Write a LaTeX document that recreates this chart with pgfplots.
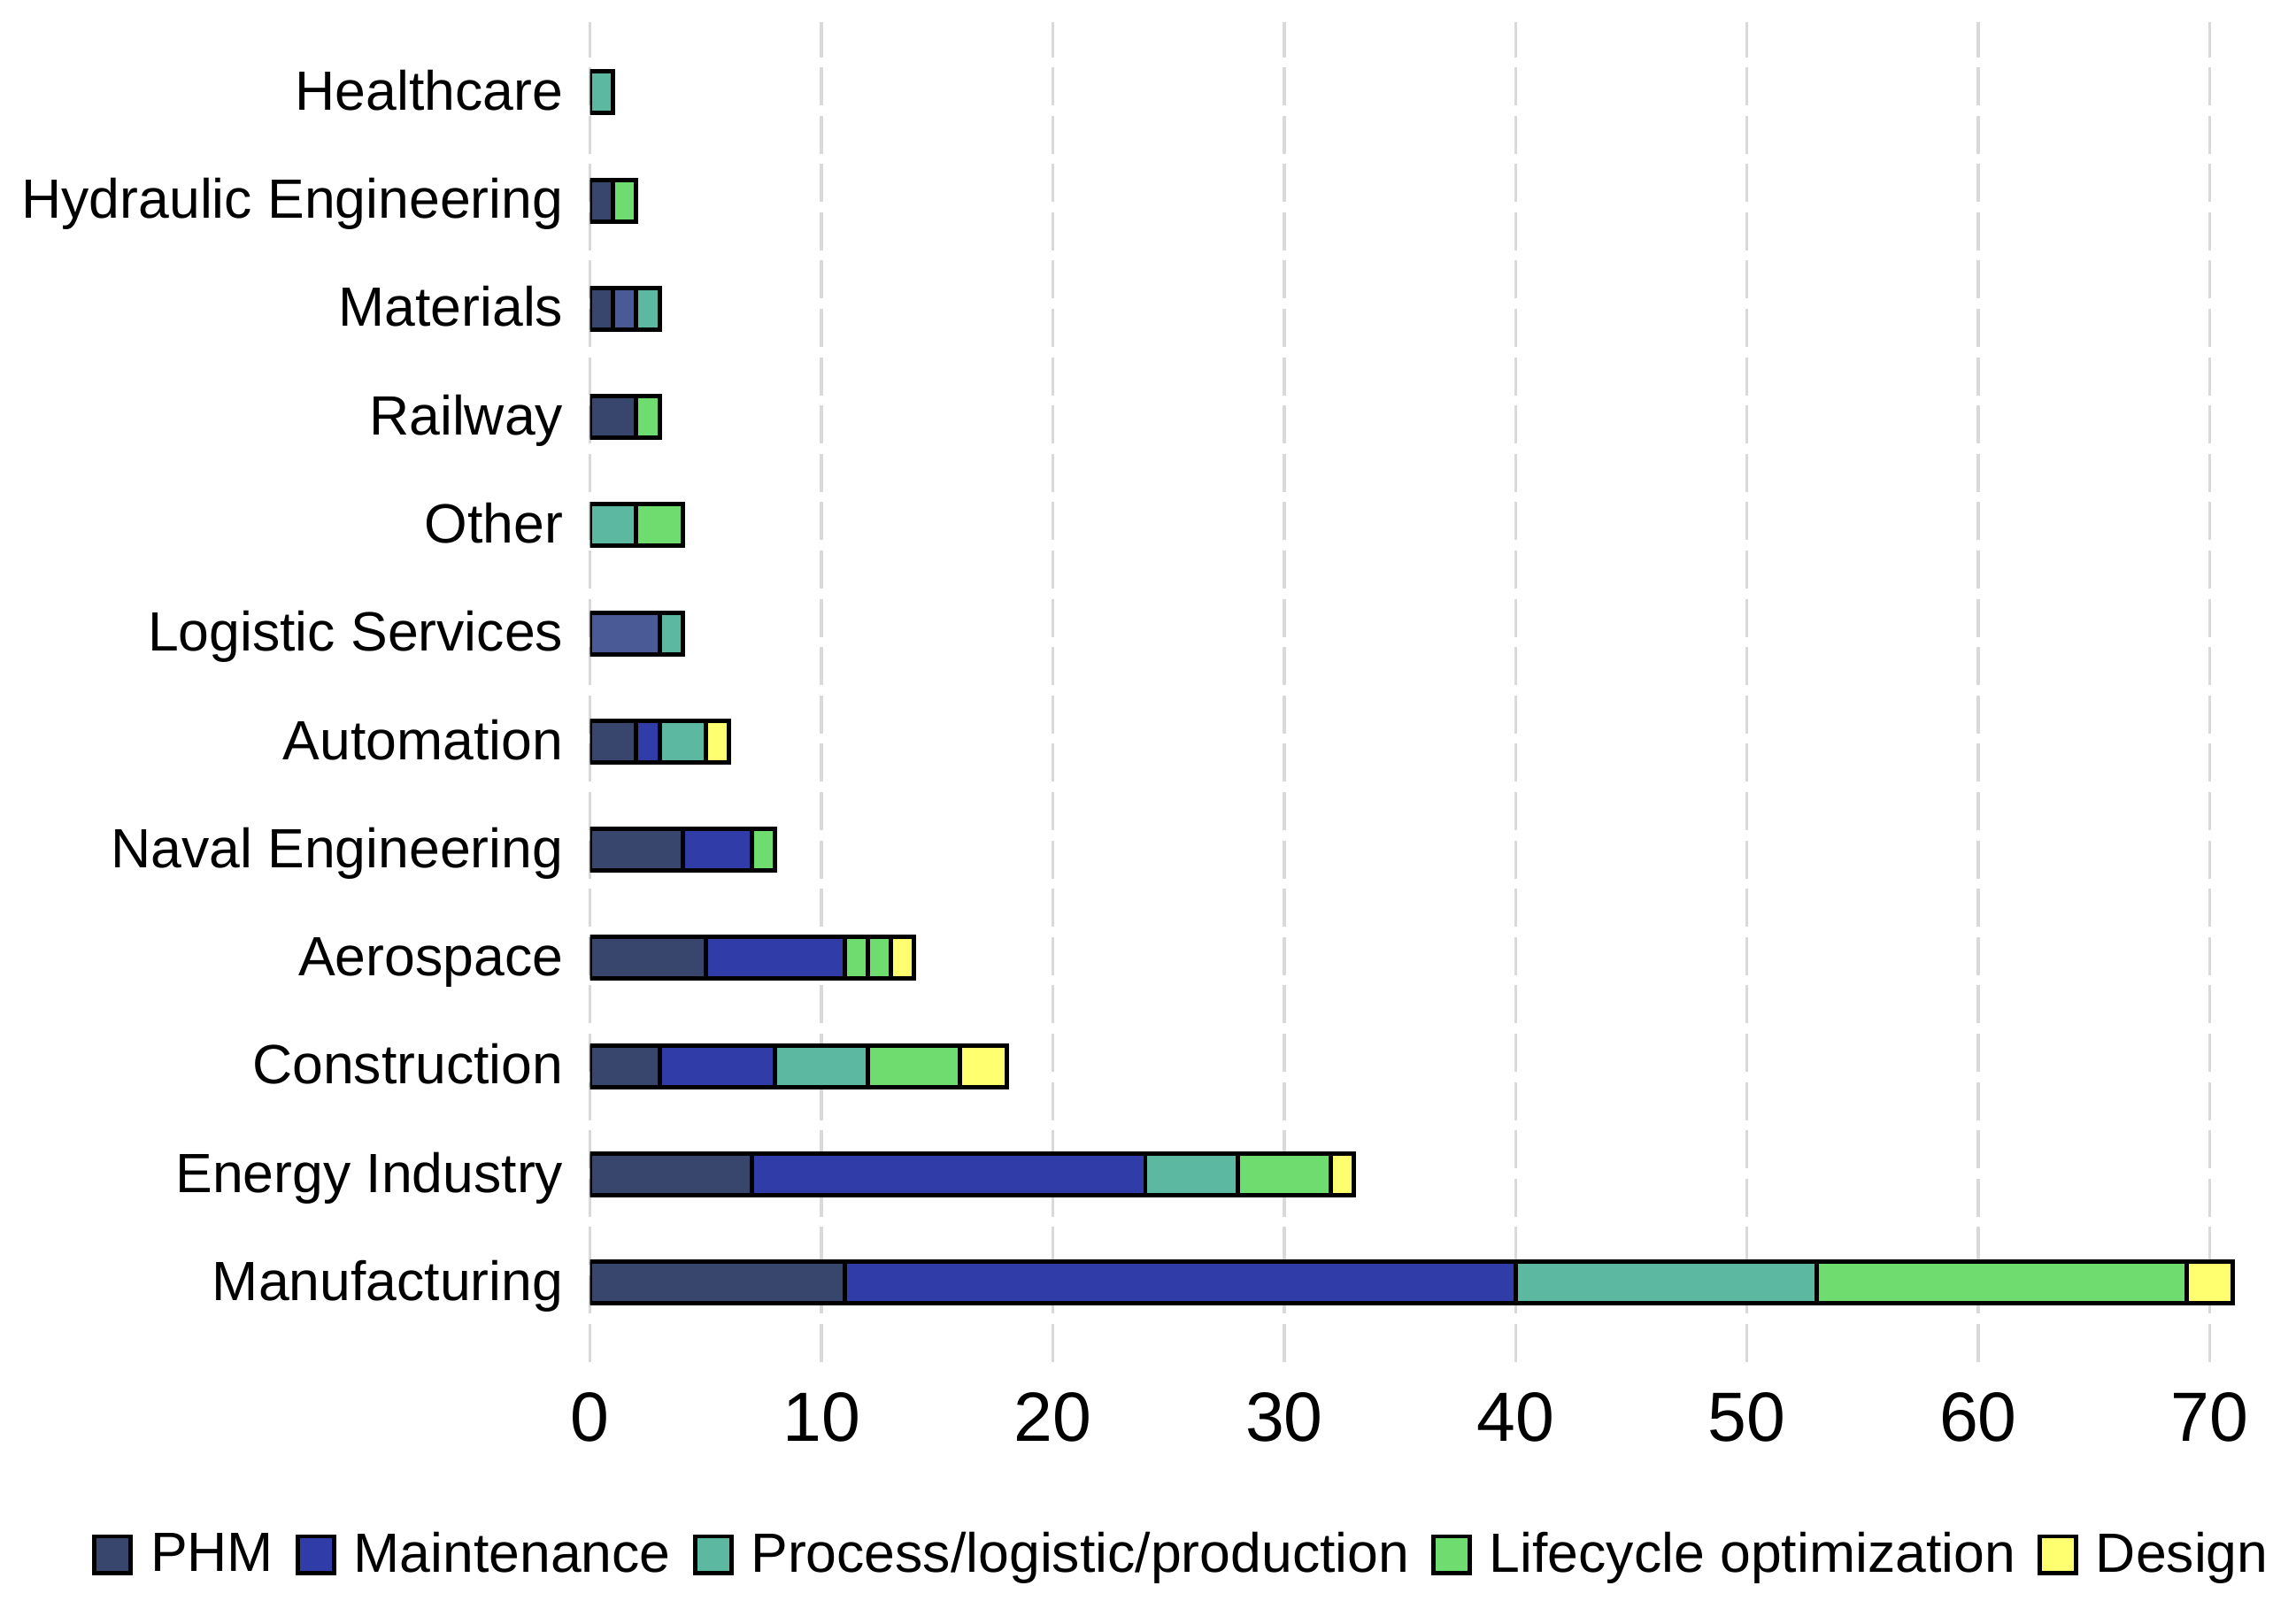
\documentclass[border=0pt]{standalone}
\usepackage{fontspec}
\setmainfont{Liberation Sans}
\usepackage{pgfplots}
\usepackage{pgfplotstable}
\pgfplotsset{compat=1.18}

\definecolor{cPHM}{RGB}{56,70,110}
\definecolor{cLog}{RGB}{74,90,150}
\definecolor{cMnt}{RGB}{48,60,168}
\definecolor{cProc}{RGB}{92,184,160}
\definecolor{cLife}{RGB}{110,220,110}
\definecolor{cDes}{RGB}{255,255,112}
\definecolor{gridgrey}{RGB}{217,217,217}

% rows from bottom (Manufacturing) to top (Healthcare)
\pgfplotstableread{
idx phm logi mnt proc life lifeb des
0   11  0    29  13   16   0     2
1   7   0    17  4    4    0     1
2   3   0    5   4    4    0     2
3   5   0    6   0    1    1     1
4   4   0    3   0    1    0     0
5   2   0    1   2    0    0     1
6   0   3    0   1    0    0     0
7   0   0    0   2    2    0     0
8   2   0    0   0    1    0     0
9   1   1    0   1    0    0     0
10  1   0    0   0    1    0     0
11  0   0    0   1    0    0     0
}\apps

\begin{document}
\begin{tikzpicture}
\begin{axis}[
  name=ax,
  scale only axis,
  width=568.8pt, height=457.5pt,
  xbar stacked,
  bar width=14.2pt,
  xmin=0, xmax=72,
  ymin=-0.73, ymax=11.65,
  ytick={0,...,11},
  yticklabels={Manufacturing, Energy Industry, Construction, Aerospace,
    Naval Engineering, Automation, Logistic Services, Other, Railway,
    Materials, Hydraulic Engineering, Healthcare},
  xtick={0,10,...,70},
  axis line style={draw=none},
  major tick length=0pt,
  xmajorgrids,
  grid style={gridgrey, line width=1pt, dash pattern=on 13pt off 3.5pt},
  /pgf/number format/assume math mode=true,
  xticklabel style={font=\fontsize{23.8}{28}\selectfont, inner sep=0pt, yshift=-10.5pt},
  yticklabel style={font=\fontsize{18.9}{22}\selectfont, inner sep=0pt, xshift=-9pt,
    yshift=-2.5pt, text height=0.716em, text depth=0pt},
  every axis plot/.append style={draw=black, line width=1.5pt},
  legend columns=5,
  legend style={draw=none, at={(0.356,-0.144)}, anchor=center,
    font=\fontsize{18.9}{22}\selectfont,
    /tikz/every odd column/.append style={column sep=4pt},
    /tikz/every even column/.append style={column sep=5.5pt}},
  legend image code/.code={\draw[#1, line width=1.5pt] (0pt,-6.2pt) rectangle (12.4pt,6.2pt);},
]
\addplot[fill=cPHM] table[x=phm, y=idx] {\apps};
\addlegendentry{PHM}
\addplot[fill=cLog, forget plot] table[x=logi, y=idx] {\apps};
\addplot[fill=cMnt] table[x=mnt, y=idx] {\apps};
\addlegendentry{Maintenance}
\addplot[fill=cProc] table[x=proc, y=idx] {\apps};
\addlegendentry{Process/logistic/production}
\addplot[fill=cLife] table[x=life, y=idx] {\apps};
\addlegendentry{Lifecycle optimization}
\addplot[fill=cLife, forget plot] table[x=lifeb, y=idx] {\apps};
\addplot[fill=cDes] table[x=des, y=idx] {\apps};
\addlegendentry{Design}
\end{axis}
\pgfresetboundingbox
\path (-201.5pt,-81.5pt) rectangle (582.5pt,465pt);
\end{tikzpicture}
\end{document}
